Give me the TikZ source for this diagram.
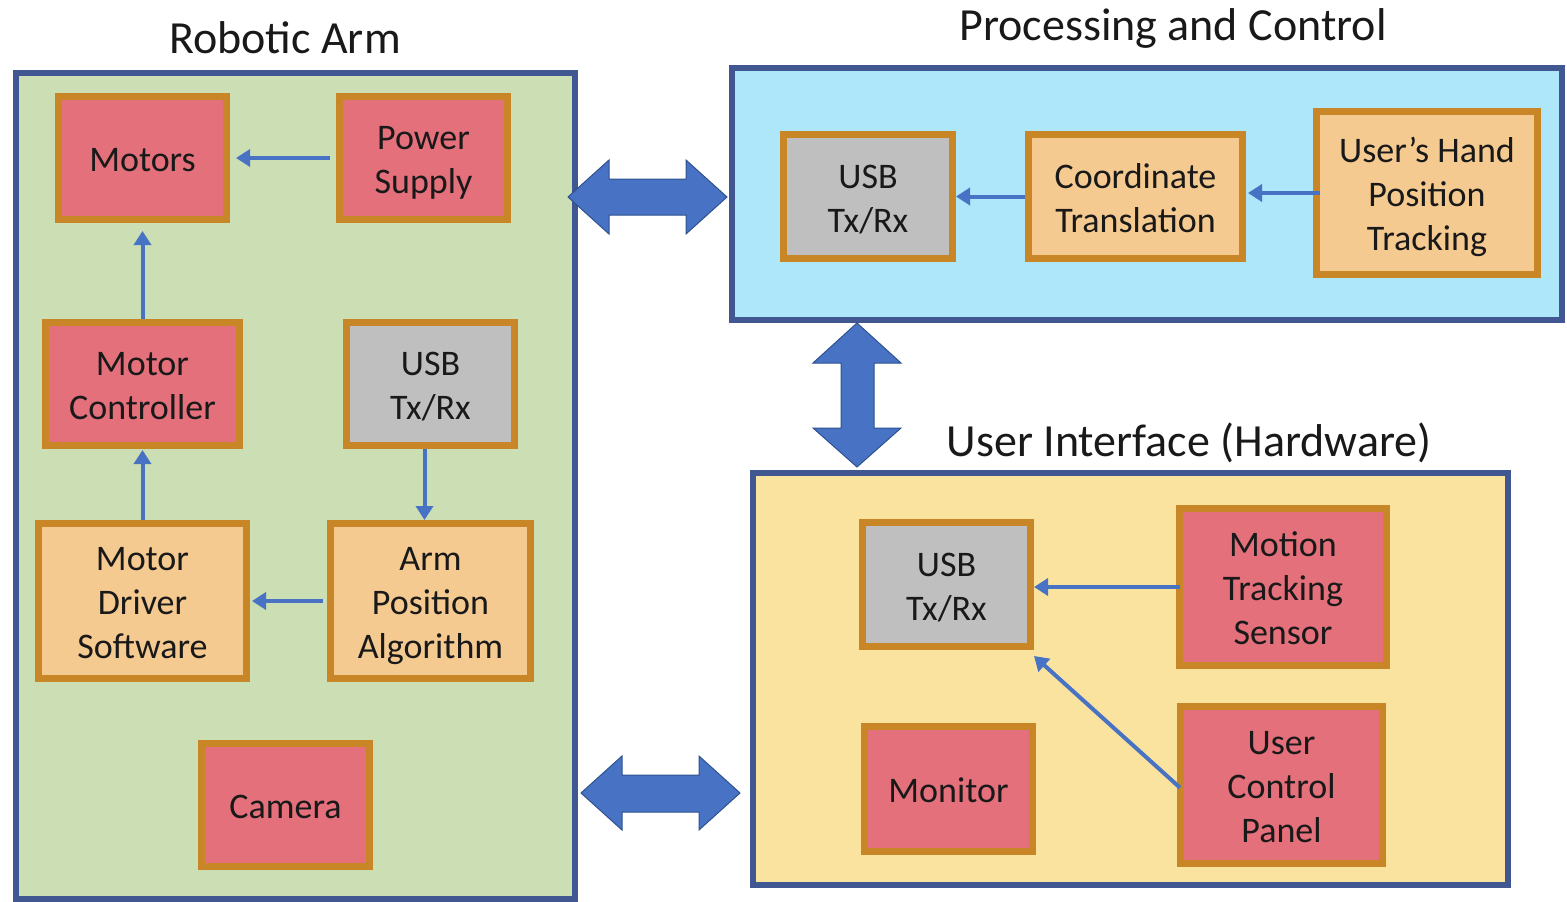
\documentclass[tikz,border=0pt]{standalone}
\usepackage{fontspec}
\setmainfont{Carlito}
\usetikzlibrary{arrows.meta}

\definecolor{frameblue}{RGB}{64,87,146}
\definecolor{panelgreen}{RGB}{204,223,180}
\definecolor{panelcyan}{RGB}{174,230,250}
\definecolor{panelyellow}{RGB}{249,227,159}
\definecolor{boxedge}{RGB}{200,134,38}
\definecolor{boxred}{RGB}{227,112,123}
\definecolor{boxorange}{RGB}{245,202,145}
\definecolor{boxgray}{RGB}{191,191,191}
\definecolor{flowblue}{RGB}{72,114,196}
\definecolor{flowedge}{RGB}{47,82,143}

% box text: lines on a fixed 44pt leading, set a little below the centre
\newcommand\boxlines[1]{\raisebox{-5pt}[\height][\depth]{\begin{tabular}{@{}c@{}}#1\end{tabular}}}

\begin{document}
\begin{tikzpicture}[x=1pt,y=-1pt,
  panel/.style={draw=frameblue, line width=6pt},
  block/.style={draw=boxedge, line width=7pt, inner sep=0pt,
    text=black!90, font=\fontsize{36}{44}\selectfont},
  redblock/.style={block, fill=boxred},
  orangeblock/.style={block, fill=boxorange},
  grayblock/.style={block, fill=boxgray},
  flow/.style={draw=flowblue, line width=4pt, -{Triangle[length=14pt,width=17pt]}},
  bigarrow/.style={fill=flowblue, draw=flowedge, line width=1pt, line join=miter},
  title/.style={anchor=base, text=black!90, font=\fontsize{46}{55}\selectfont}]

\useasboundingbox (0,0) rectangle (1567,902);

% group panels
\draw[panel, fill=panelgreen]  (16,73)  rectangle (575,899);
\draw[panel, fill=panelcyan]   (732,68) rectangle (1562,320);
\draw[panel, fill=panelyellow] (753,473) rectangle (1508,885);

% group titles
\node[title] (tArm)  at (285,53)   {Robotic Arm};
\node[title] (tProc) at (1173,40)  {Processing and Control};
\node[title] (tUI)   at (1189,456) {User Interface (Hardware)};

% links between the groups
\draw[bigarrow] (568,197) -- (609,160) -- (609,179) -- (686,179) -- (686,160)
  -- (727,197) -- (686,234) -- (686,215) -- (609,215) -- (609,234) -- cycle;
\draw[bigarrow] (857,323) -- (901,363) -- (874,363) -- (874,428) -- (901,428)
  -- (857,467) -- (813,428) -- (841,428) -- (841,363) -- (813,363) -- cycle;
\draw[bigarrow] (581,793) -- (622,756) -- (622,775) -- (699,775) -- (699,756)
  -- (740,793) -- (699,830) -- (699,812) -- (622,812) -- (622,830) -- cycle;

% robotic arm
\node[redblock, minimum width=168pt, minimum height=123pt] (motors) at (142.5,158) {\boxlines{Motors}};
\node[redblock, minimum width=168pt, minimum height=123pt] (power) at (423.5,158) {\boxlines{Power\\Supply}};
\node[redblock, minimum width=194pt, minimum height=123pt] (mc) at (142.5,384) {\boxlines{Motor\\Controller}};
\node[grayblock, minimum width=168pt, minimum height=123pt] (usbA) at (430.5,384) {\boxlines{USB\\Tx/Rx}};
\node[orangeblock, minimum width=208pt, minimum height=155pt] (mds) at (142.5,601) {\boxlines{Motor\\Driver\\Software}};
\node[orangeblock, minimum width=200pt, minimum height=155pt] (apa) at (430.5,601) {\boxlines{Arm\\Position\\Algorithm}};
\node[redblock, minimum width=168pt, minimum height=123pt] (cam) at (285.5,805) {\boxlines{Camera}};

% processing and control
\node[grayblock, minimum width=169pt, minimum height=124pt] (usbP) at (868,196.5) {\boxlines{USB\\Tx/Rx}};
\node[orangeblock, minimum width=214pt, minimum height=124pt] (coord) at (1135.5,196.5) {\boxlines{Coordinate\\Translation}};
\node[orangeblock, minimum width=221pt, minimum height=163pt] (hand) at (1427,193) {\boxlines{User’s Hand\\Position\\Tracking}};

% user interface
\node[grayblock, minimum width=168pt, minimum height=124pt] (usbU) at (946.5,584.5) {\boxlines{USB\\Tx/Rx}};
\node[redblock, minimum width=207pt, minimum height=157pt] (motion) at (1283,587) {\boxlines{Motion\\Tracking\\Sensor}};
\node[redblock, minimum width=168pt, minimum height=125pt] (monitor) at (948.5,789) {\boxlines{Monitor}};
\node[redblock, minimum width=202pt, minimum height=157pt] (ucp) at (1281.5,785) {\boxlines{User\\Control\\Panel}};

% data flow
\draw[flow, shorten <=6pt, shorten >=6pt] (power.west) -- (motors.east);
\draw[flow, shorten >=8pt] (mc.north) -- (motors.south);
\draw[flow, shorten >=1pt] (mds.north) -- (mc.south);
\draw[flow] ([xshift=-6pt]usbA.south) -- ([xshift=-6pt]apa.north);
\draw[flow, shorten <=4pt, shorten >=2pt] (apa.west) -- (mds.east);
\draw[flow] (coord.west) -- (usbP.east);
\draw[flow, shorten <=-7pt, shorten >=2pt] (hand.west) -- (hand.west -| coord.east);
\draw[flow, shorten <=-4pt] (motion.west) -- (motion.west -| usbU.east);
\draw[flow, shorten <=-4pt] (ucp.west) -- ([yshift=-6pt]usbU.south east);
\end{tikzpicture}
\end{document}
